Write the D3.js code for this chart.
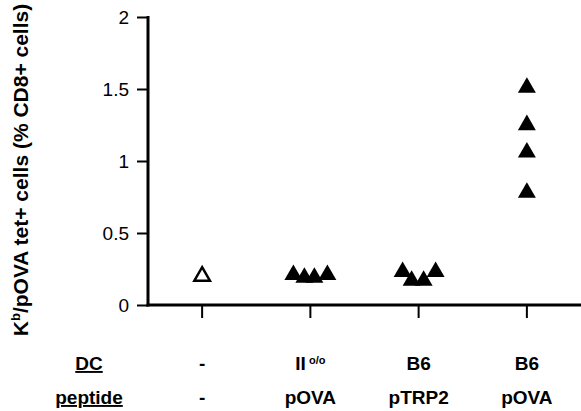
<!DOCTYPE html>
<html lang="en">
  <head>
    <meta charset="UTF-8" />
    <title>tet+ cells</title>
    <script src="https://cdn.jsdelivr.net/npm/d3@7.6.1/dist/d3.min.js"></script>
    <style>
      body { margin: 0; background: #fff; }
      svg { display: block; font-family: Arial, 'Liberation Sans', sans-serif; }
    </style>
  </head>
  <body>
    <div id="box"></div>
    <script>
      const width = 581;
      const height = 411;

      // data
      const groups = ['-', 'II', 'B6 pTRP2', 'B6 pOVA'];
      const dcLabels = ['-', 'II', 'B6', 'B6'];
      const peptideLabels = ['-', 'pOVA', 'pTRP2', 'pOVA'];
      const group1 = [0.2];
      const group2 = [0.21, 0.19, 0.19, 0.21];
      const group3 = [0.23, 0.17, 0.17, 0.23];
      const group4 = [1.51, 1.25, 1.06, 0.78];
      const offsets2 = [-17, -6, 4, 17]; // horizontal jitter as drawn
      const offsets3 = [-16, -7, 5, 17];
      const yTicks = [0, 0.5, 1, 1.5, 2];

      const margin = {left: 148, right: 0, top: 17, bottom: 106};

      const svg = d3.select('#box').append('svg').attr('width', width).attr('height', height);

      const x = d3.scaleBand().domain(groups).range([margin.left, width - margin.right]);
      const cx = g => x(g) + x.bandwidth() / 2;
      const y = d3.scaleLinear().domain([0, 2]).range([height - margin.bottom, margin.top]);

      // y axis
      const yAxis = svg.append('g')
        .attr('transform', `translate(${margin.left},0)`)
        .call(d3.axisLeft(y).tickValues(yTicks).tickFormat(d3.format('')).tickSize(11).tickPadding(8));
      yAxis.select('.domain').remove();
      yAxis.selectAll('.tick line').attr('stroke', '#000').attr('stroke-width', 2);
      yAxis.selectAll('.tick text').attr('font-size', 19).attr('fill', '#000').attr('font-family', null);
      yAxis.append('line')
        .attr('y1', y(2) - 1).attr('y2', y(0) + 1.5)
        .attr('stroke', '#000').attr('stroke-width', 3);

      // x axis
      const xAxis = svg.append('g')
        .attr('transform', `translate(0,${y(0)})`)
        .call(d3.axisBottom(x).tickSize(13).tickFormat(''));
      xAxis.select('.domain').remove();
      xAxis.selectAll('.tick line').attr('stroke', '#000').attr('stroke-width', 2);
      xAxis.append('line')
        .attr('x1', margin.left - 1.5).attr('x2', width)
        .attr('stroke', '#000').attr('stroke-width', 3);

      // y title
      const title = svg.append('text')
        .attr('transform', `translate(28,${170}) rotate(-90)`)
        .attr('text-anchor', 'middle')
        .attr('font-size', 21)
        .attr('font-weight', 'bold');
      title.append('tspan').text('K');
      title.append('tspan').attr('font-size', 13).attr('dy', -8).text('b');
      title.append('tspan').attr('dy', 8).text('/pOVA tet+ cells (% CD8+ cells)');

      // points
      const tri = d3.symbol().type(d3.symbolTriangle).size(140);
      const pts = [];
      group1.forEach(v => pts.push({g: groups[0], v, dx: 0, open: true}));
      group2.forEach((v, i) => pts.push({g: groups[1], v, dx: offsets2[i]}));
      group3.forEach((v, i) => pts.push({g: groups[2], v, dx: offsets3[i]}));
      group4.forEach(v => pts.push({g: groups[3], v, dx: 0}));

      svg.selectAll('.pt')
        .data(pts)
        .enter()
        .append('path')
        .attr('class', 'pt')
        .attr('d', d => d.open ? d3.symbol().type(d3.symbolTriangle).size(105)() : tri())
        .attr('transform', d => `translate(${cx(d.g) + d.dx},${y(d.v)})`)
        .attr('fill', d => d.open ? '#fff' : '#000')
        .attr('stroke', '#000')
        .attr('stroke-width', d => d.open ? 2.5 : 0);

      // row labels under the axis
      const rows = [
        {name: 'DC', labels: dcLabels, y: 370},
        {name: 'peptide', labels: peptideLabels, y: 404}
      ];
      rows.forEach(r => {
        svg.append('text')
          .attr('x', 89).attr('y', r.y)
          .attr('text-anchor', 'middle')
          .attr('font-size', 19).attr('font-weight', 'bold')
          .attr('text-decoration', 'underline')
          .text(r.name);
        r.labels.forEach((t, i) => {
          const tx = svg.append('text')
            .attr('x', cx(groups[i])).attr('y', r.y)
            .attr('text-anchor', 'middle')
            .attr('font-size', 19).attr('font-weight', 'bold')
            .text(t);
          if (t === 'II') {
            tx.append('tspan').attr('font-size', 11).attr('dy', -6).text(' o/o');
          }
        });
      });
    </script>
  </body>
</html>
